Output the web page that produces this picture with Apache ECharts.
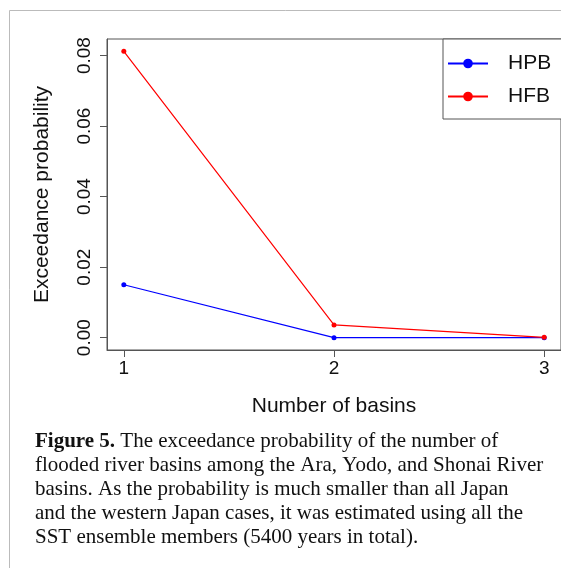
<!DOCTYPE html>
<html>
<head>
<meta charset="utf-8">
<script src="https://cdn.jsdelivr.net/npm/echarts@6/dist/echarts.min.js"></script>
<style>
  html, body { margin: 0; padding: 0; background: #fff; }
  #chart { width: 561px; height: 571px; }
</style>
</head>
<body>
<div id="chart"></div>
<script>
  // number of basins
  var basins = [1, 2, 3];
  // exceedance probability
  var hpb = [0.0150, 0.0000, 0.0000];
  var hfb = [0.0812, 0.0036, 0.0001];
  var yTicks = [0, 0.02, 0.04, 0.06, 0.08];

  var caption = [
    'flooded river basins among the Ara, Yodo, and Shonai River',
    'basins. As the probability is much smaller than all Japan',
    'and the western Japan cases, it was estimated using all the',
    'SST ensemble members (5400 years in total).'
  ];

  function pairs(ys) {
    return basins.map(function (x, i) { return [x, ys[i]]; });
  }

  var myChart = echarts.init(document.getElementById('chart'));

  var graphics = [
    // frame of the figure
    {type: 'line', shape: {x1: 9.5, y1: 10.5, x2: 561, y2: 10.5}, style: {stroke: '#bbb', lineWidth: 1}},
    {type: 'line', shape: {x1: 9.5, y1: 10.5, x2: 9.5, y2: 568}, style: {stroke: '#bbb', lineWidth: 1}},
    {
      type: 'text', left: 35, top: 431,
      style: {
        text: '{b|Figure 5.} The exceedance probability of the number of',
        rich: {b: {fontWeight: 'bold', fontFamily: 'Liberation Serif', fontSize: 21, fill: '#111'}},
        fontFamily: 'Liberation Serif', fontSize: 21, fill: '#111'
      }
    }
  ];
  caption.forEach(function (t, i) {
    graphics.push({
      type: 'text', left: 35, top: 431 + (i + 1) * 24,
      style: {text: t, fontFamily: 'Liberation Serif', fontSize: 21, fill: '#111'}
    });
  });

  myChart.setOption({
    animation: false,
    textStyle: {fontFamily: 'Liberation Sans'},
    grid: {
      left: 107, top: 39, right: -1, bottom: 221,
      show: true, borderColor: '#555', borderWidth: 1
    },
    legend: {
      left: 443, top: 39,
      orient: 'vertical',
      backgroundColor: '#fff',
      borderColor: '#555', borderWidth: 1,
      padding: [14, 60, 12, 4],
      itemGap: 12,
      itemWidth: 40, itemHeight: 12,
      textStyle: {fontSize: 21, color: '#111', padding: [0, 0, 0, 15]},
      data: ['HPB', 'HFB']
    },
    xAxis: {
      type: 'value', min: 0.92, max: 3.08,
      name: 'Number of basins', nameLocation: 'middle', nameGap: 46,
      nameTextStyle: {fontSize: 21, color: '#111'},
      axisLine: {show: true, onZero: false, lineStyle: {color: '#555'}},
      axisTick: {show: true, length: 7, inside: false, customValues: basins, lineStyle: {color: '#555'}},
      axisLabel: {customValues: basins, fontSize: 19, color: '#111', margin: 9},
      splitLine: {show: false}
    },
    yAxis: {
      type: 'value', min: -0.0035, max: 0.0847,
      name: 'Exceedance probability', nameLocation: 'middle', nameGap: 54,
      nameTextStyle: {fontSize: 21, color: '#111'},
      axisLine: {show: true, onZero: false, lineStyle: {color: '#555'}},
      axisTick: {show: true, length: 7, customValues: yTicks, lineStyle: {color: '#555'}},
      axisLabel: {
        customValues: yTicks, fontSize: 19, color: '#111', rotate: 90, margin: 13,
        formatter: function (v) { return v.toFixed(2); }
      },
      splitLine: {show: false}
    },
    series: [
      {
        name: 'HPB', type: 'line', data: pairs(hpb),
        symbol: 'circle', symbolSize: 5,
        itemStyle: {color: '#0000ff'}, lineStyle: {color: '#0000ff', width: 1.2}
      },
      {
        name: 'HFB', type: 'line', data: pairs(hfb),
        symbol: 'circle', symbolSize: 5,
        itemStyle: {color: '#ff0000'}, lineStyle: {color: '#ff0000', width: 1.2}
      }
    ],
    graphic: graphics
  });
</script>
</body>
</html>
